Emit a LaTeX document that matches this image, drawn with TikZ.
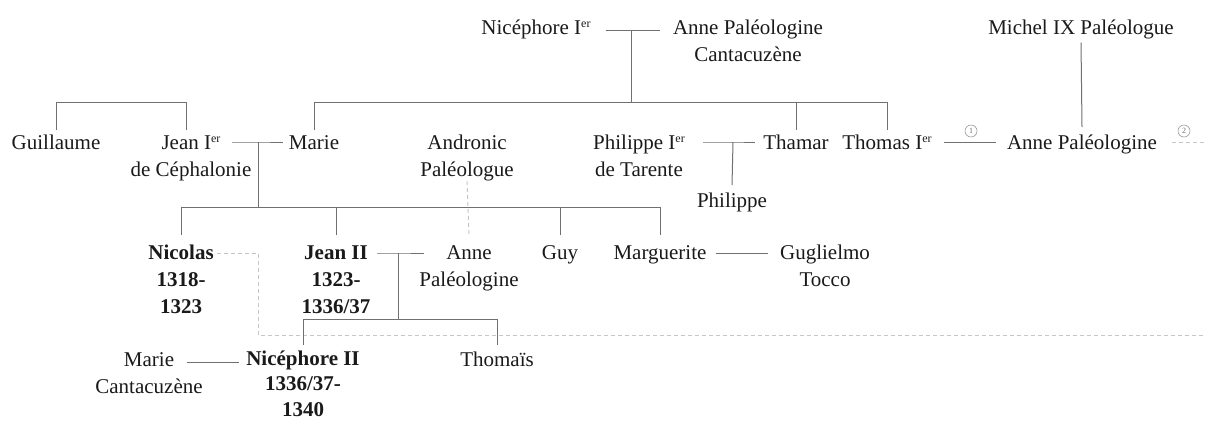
\documentclass[tikz,border=0pt]{standalone}
\usepackage{fontspec}
\setmainfont{Liberation Serif}
\definecolor{lncol}{HTML}{707070}
\definecolor{dlcol}{HTML}{C6C6C6}
\definecolor{txcol}{HTML}{1A1A1A}
\newcommand\eR{\raisebox{7pt}{\fontsize{12}{13}\selectfont er}}
\tikzset{
  person/.style={anchor=north, yshift=18.9pt, inner sep=0pt, align=center,
    font=\fontsize{21}{27}\selectfont, text=txcol},
  ruler/.style={person, font=\fontsize{21}{27}\selectfont\bfseries},
  kin/.style={draw=lncol, line width=1pt},
  kindash/.style={draw=dlcol, line width=0.9pt, dash pattern=on 4pt off 3pt},
  numcirc/.style={circle, draw=lncol!70, line width=0.6pt, inner sep=0pt,
    minimum size=12pt, font=\fontsize{8}{9}\selectfont, text=lncol}
}
\begin{document}
\begin{tikzpicture}[x=1pt,y=-1pt]
\useasboundingbox[fill=white] (0,0) rectangle (1206,421);

% people
\node[person] (nic1)   at (536,34)  {\strut Nicéphore I\eR};
\node[person] (anne1)  at (748,34)  {\strut Anne Paléologine\\Cantacuzène};
\node[person] (michel) at (1081,34) {\strut Michel IX Paléologue};
\node[person] (guil)   at (56,149)  {\strut Guillaume};
\node[person] (jean1)  at (191,149) {\strut Jean I\eR\\de Céphalonie};
\node[person] (marie)  at (314,149) {\strut Marie};
\node[person] (andr)   at (467,149) {\strut Andronic\\Paléologue};
\node[person] (phil1)  at (639,149) {\strut Philippe I\eR\\de Tarente};
\node[person] (thamar) at (796,149) {\strut Thamar};
\node[person] (thomas) at (887,149) {\strut Thomas I\eR};
\node[person] (anne2)  at (1082,149) {\strut Anne Paléologine};
\node[person] (phil2)  at (732,207) {\strut Philippe};
\node[ruler]  (nicolas) at (181,259) {\strut Nicolas\\1318-\\1323};
\node[ruler]  (jean2)  at (336,259) {\strut Jean II\\1323-\\1336/37};
\node[person] (anne3)  at (469,259) {\strut Anne\\Paléologine};
\node[person] (guy)    at (560,259) {\strut Guy};
\node[person] (marg)   at (660,259) {\strut Marguerite};
\node[person] (gugl)   at (825,259) {\strut Guglielmo\\Tocco};
\node[person] (marie2) at (149,366) {\strut Marie\\Cantacuzène};
\node[ruler, font=\fontsize{21}{25.5}\selectfont\bfseries]  (nic2) at (303,366) {\strut Nicéphore II\\1336/37-\\1340};
\node[person] (thomais) at (497,366) {\strut Thomaïs};

% marriage junctions
\coordinate (m0) at (631,30);
\coordinate (m1) at (258,142);
\coordinate (m2) at (733,142);
\coordinate (m3) at (398,253);

% Nicéphore I -- Anne Paléologine Cantacuzène
\draw[kin] ([xshift=15pt]nic1.east |- m0) -- ([xshift=-13pt]anne1.west |- m0);
\draw[kin] (m0) -- (m0 |- 0,102);
\draw[kin] (marie.north) |- (thomas.north |- 0,102) -- (thomas.north);
\draw[kin] (thamar.north) -- (thamar.north |- 0,102);

% Michel IX -> Anne Paléologine
\draw[kin] (michel.south) -- ([yshift=3pt]anne2.north);

% Guillaume / Jean I siblings
\draw[kin] (guil.north) |- ([xshift=-5pt]jean1.north |- 0,102) -- ([xshift=-5pt]jean1.north);

% Jean I -- Marie
\draw[kin] (232,142) -- (m1) -- ([xshift=-6pt]marie.west |- m1);
\draw[kin] (m1) -- (m1 |- 0,207);
\draw[kin] ([yshift=5pt]nicolas.north) |- (marg.north |- 0,207) -- ([yshift=5pt]marg.north);
\draw[kin] ([yshift=5pt]jean2.north) -- (jean2.north |- 0,207);
\draw[kin] ([yshift=5pt]guy.north) -- (guy.north |- 0,207);

% Andronic (dashed)
\draw[kindash] (andr.south) -- ([yshift=5pt]anne3.north);

% Philippe I -- Thamar
\draw[kin] (703,142) -- (m2) -- (755,142);
\draw[kin] (m2) -- ([yshift=3pt]phil2.north);

% Thomas I -- Anne Paléologine
\coordinate (t1) at (944,142);
\coordinate (t2) at (996,142);
\draw[kin] (t1) -- (t2);
\node[numcirc] (c1) at (971,131) {1};
\node[numcirc] (c2) at (1184,131) {2};
\coordinate (t3) at (1172,142);
\coordinate (t4) at (1206,142);
\draw[kindash] (t3) -- (t4);

% Nicolas dashed
\coordinate (d1) at (258,253);
\coordinate (d2) at (258,335);
\coordinate (d3) at (1206,335);
\draw[kindash] ([xshift=3pt]nicolas.east |- d1) -- (d1) -- (d2) -- (d3);

% Jean II -- Anne
\draw[kin] (377,253) -- (m3) -- (424,253);
\draw[kin] (m3) -- (m3 |- 0,319);
\draw[kin] ([yshift=2pt]nic2.north) |- (thomais.north |- 0,319) -- ([yshift=2pt]thomais.north);

% Marguerite -- Guglielmo
\draw[kin] ([xshift=9pt]marg.east |- m3) -- ([xshift=-12pt]gugl.west |- m3);

% Marie Cantacuzène -- Nicéphore II
\coordinate (m4) at (187,362);
\draw[kin] (m4) -- ([xshift=-7pt]nic2.west |- m4);
\end{tikzpicture}
\end{document}
